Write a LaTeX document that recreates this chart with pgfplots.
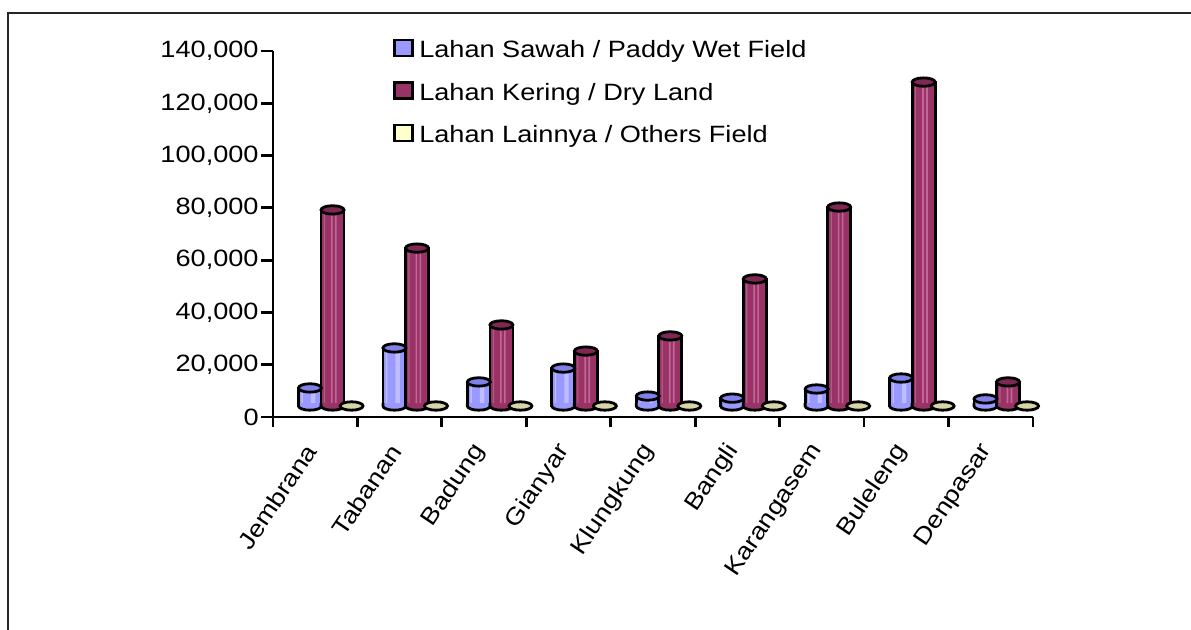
\documentclass[border=0pt]{standalone}
\usepackage{fontspec}
\setmainfont{Liberation Sans}[FakeStretch=1.15]
\usepackage{pgfplots}
\pgfplotsset{compat=1.18}
\usepackage{pgfplotstable}

\definecolor{sawahB}{HTML}{9999FF}
\definecolor{sawahL}{HTML}{BDBDFF}
\definecolor{sawahT}{HTML}{8080EA}
\definecolor{dryB}{HTML}{993366}
\definecolor{dryL}{HTML}{C2669A}
\definecolor{dryT}{HTML}{7E2854}
\definecolor{otherB}{HTML}{FFFFCC}
\definecolor{otherT}{HTML}{D8D5A6}

\pgfdeclareplotmark{cyltop}{%
  \pgfpathellipse{\pgfpointorigin}{\pgfqpoint{5.75pt}{0pt}}{\pgfqpoint{0pt}{2.1pt}}%
  \pgfusepathqfillstroke}
\pgfdeclareplotmark{cylbot}{%
  \pgfpathmoveto{\pgfqpoint{-5.75pt}{1.4pt}}%
  \pgfpathlineto{\pgfqpoint{-5.75pt}{0pt}}%
  \pgfpatharc{180}{360}{5.75pt and 2.1pt}%
  \pgfpathlineto{\pgfqpoint{5.75pt}{1.4pt}}%
  \pgfusepathqfillstroke}

\pgfplotstableread{
x sawah dry others
0 6900 75000 0
1 22200 60400 0
2 9200 31000 0
3 14500 21000 0
4 3800 26800 0
5 3000 48600 0
6 6500 76100 0
7 10700 123900 0
8 2700 9200 0
}\landtable

\newcommand{\lblfont}{\fontsize{11.8}{14}\selectfont}
\pgfplotsset{
  body/.style={ybar, bar width=11.5pt, bar shift=0pt, draw=black, line width=1.4pt},
  stripe/.style={ybar, bar width=#1, draw=none},
  cap/.style={only marks, mark options={draw=black, line width=1.4pt, fill=#1}},
}

\begin{document}
\begin{tikzpicture}
\useasboundingbox (0pt,0pt) rectangle (595.5pt,315pt);
\draw[line width=1pt, black!85] (4.2pt,0pt) -- (4.2pt,308.5pt) -- (595.5pt,308.5pt);

% cylinders (floor of the 3D plot sits a little above the axis line)
\begin{axis}[
  at={(136.5pt,112pt)}, anchor=south west,
  scale only axis, width=380pt, height=183pt,
  xmin=-0.5, xmax=8.5, ymin=0, ymax=140000,
  hide axis, clip=false]
% paddy wet field
\addplot[body, fill=sawahB] table[x expr=\thisrow{x}-0.062, y=sawah] {\landtable};
\addplot[stripe=2.2pt, bar shift=1.6pt, fill=sawahL] table[x expr=\thisrow{x}-0.062, y=sawah] {\landtable};
\addplot[stripe=0.7pt, bar shift=-3.9pt, fill=sawahL] table[x expr=\thisrow{x}-0.062, y=sawah] {\landtable};
\addplot[cap=sawahB, mark=cylbot] table[x expr=\thisrow{x}-0.062, y expr=0] {\landtable};
\addplot[cap=sawahT, mark=cyltop] table[x expr=\thisrow{x}-0.062, y=sawah] {\landtable};
% dry land
\addplot[body, fill=dryB] table[x expr=\thisrow{x}+0.205, y=dry] {\landtable};
\addplot[stripe=0.8pt, bar shift=-0.3pt, fill=dryL] table[x expr=\thisrow{x}+0.205, y=dry] {\landtable};
\addplot[stripe=0.8pt, bar shift=1.7pt, fill=dryL] table[x expr=\thisrow{x}+0.205, y=dry] {\landtable};
\addplot[stripe=0.6pt, bar shift=-4.0pt, fill=dryL!70!dryB] table[x expr=\thisrow{x}+0.205, y=dry] {\landtable};
\addplot[cap=dryB, mark=cylbot] table[x expr=\thisrow{x}+0.205, y expr=0] {\landtable};
\addplot[cap=dryT, mark=cyltop] table[x expr=\thisrow{x}+0.205, y=dry] {\landtable};
% others field
\addplot[cap=otherT, mark=cyltop] table[x expr=\thisrow{x}+0.43, y=others] {\landtable};
\end{axis}

% axes, ticks, labels, legend
\begin{axis}[
  at={(136.5pt,106.5pt)}, anchor=south west,
  scale only axis, width=380pt, height=183pt,
  xmin=-0.5, xmax=8.5, ymin=0, ymax=140000,
  axis x line=bottom, axis y line=left,
  axis line style={-, line width=1.4pt},
  tick align=outside, major tick length=6pt, minor tick length=5pt,
  tick style={line width=1.4pt, black},
  xtick={0,...,8}, major x tick style={draw=none},
  minor xtick={-0.5,0.5,...,8.5},
  xticklabels={Jembrana,Tabanan,Badung,Gianyar,Klungkung,Bangli,Karangasem,Buleleng,Denpasar},
  xticklabel style={font=\lblfont, yshift=-6pt, rotate=56, anchor=east},
  ytick={0,20000,40000,60000,80000,100000,120000,140000},
  scaled y ticks=false,
  yticklabels={0,{20,000},{40,000},{60,000},{80,000},{100,000},{120,000},{140,000}},
  yticklabel style={font=\lblfont, inner xsep=1pt},
  legend style={at={(axis description cs:0.158,1.035)}, anchor=north west,
    draw=none, fill=none, inner sep=0pt, row sep=9pt, font=\lblfont,
    nodes={inner sep=0pt, text height=8.5pt, text depth=2.6pt}},
  legend cell align=left]
\addlegendimage{legend image code/.code={\draw[fill=sawahB, draw=black, line width=1.4pt] (0pt,-2pt) rectangle (9pt,6pt); \path (12pt,0pt);}}
\addlegendentry{Lahan Sawah / Paddy Wet Field}
\addlegendimage{legend image code/.code={\draw[fill=dryB, draw=black, line width=1.4pt] (0pt,-2pt) rectangle (9pt,6pt); \path (12pt,0pt);}}
\addlegendentry{Lahan Kering / Dry Land}
\addlegendimage{legend image code/.code={\draw[fill=otherB, draw=black, line width=1.4pt] (0pt,-2pt) rectangle (9pt,6pt); \path (12pt,0pt);}}
\addlegendentry{Lahan Lainnya / Others Field}
\end{axis}
\end{tikzpicture}
\end{document}
